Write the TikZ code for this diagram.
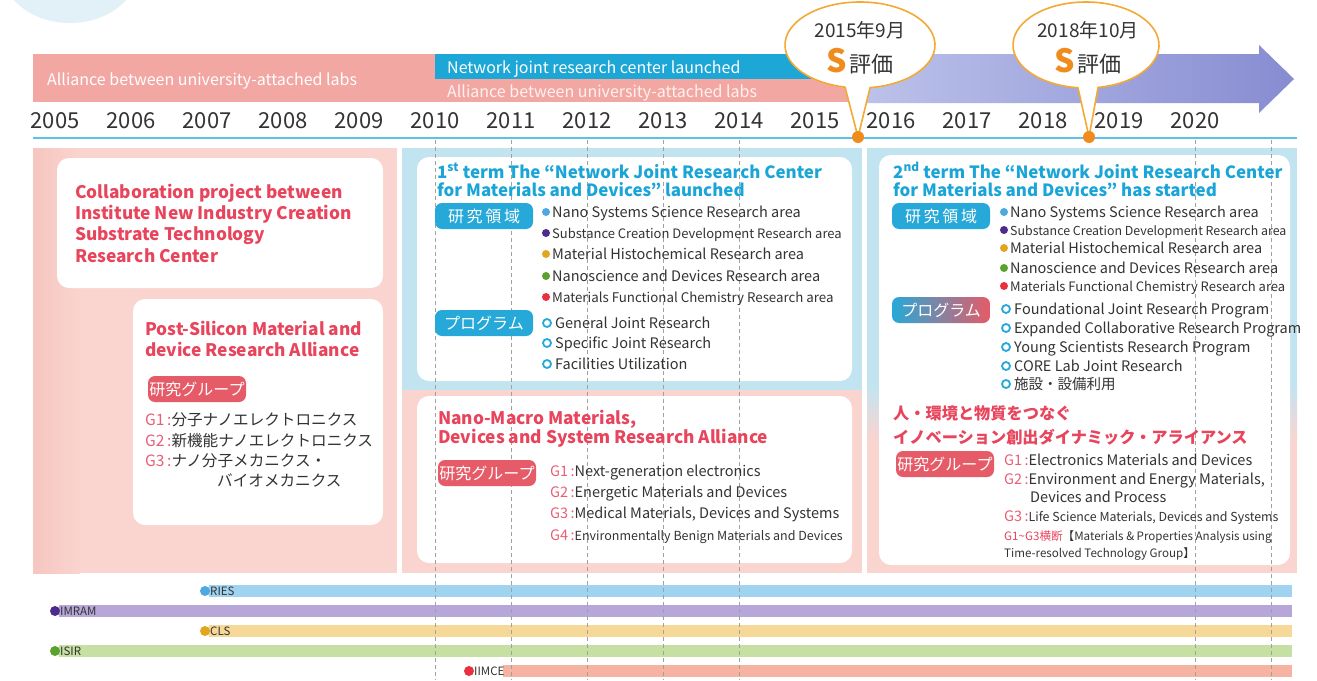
\documentclass[tikz,border=0pt]{standalone}
\usepackage{fontspec}
\setmainfont{Noto Sans CJK JP}
\usepackage{graphicx}
\usetikzlibrary{calc}
\newcommand\myfs[1]{\fontsize{#1}{#1}\selectfont}
\definecolor{ink}{HTML}{333333}
\definecolor{deco}{HTML}{E2F0F8}
\definecolor{pinkbar}{HTML}{F3A7A3}
\definecolor{bluebar}{HTML}{1CA7D6}
\definecolor{arrowL}{HTML}{BDC3EA}
\definecolor{arrowR}{HTML}{878CD2}
\definecolor{lineblue}{HTML}{5CC2EA}
\definecolor{pinkbg}{HTML}{FAD4CF}
\definecolor{pinkdk}{HTML}{F6C6C0}
\definecolor{bluebg}{HTML}{C2E4F1}
\definecolor{tred}{HTML}{E8445C}
\definecolor{gpink}{HTML}{EA5F78}
\definecolor{tcyan}{HTML}{1AA5D8}
\definecolor{bpink}{HTML}{E65B68}
\definecolor{bcyan}{HTML}{26A9D8}
\definecolor{sorange}{HTML}{F08C1E}
\definecolor{cborder}{HTML}{F2AA35}
\definecolor{gridgray}{HTML}{A0A0A0}
\definecolor{dBlue}{HTML}{4DA9E0}
\definecolor{dPurple}{HTML}{4B2C8C}
\definecolor{dOrange}{HTML}{E2A51E}
\definecolor{dGreen}{HTML}{5AA12E}
\definecolor{dRed}{HTML}{E8303E}
\definecolor{bBlue}{HTML}{A0D3EF}
\definecolor{bPurple}{HTML}{B7A6D8}
\definecolor{bOrange}{HTML}{F6D898}
\definecolor{bGreen}{HTML}{C6DFA2}
\definecolor{bRed}{HTML}{F6B3A2}
\begin{document}
\begin{tikzpicture}[x=1pt,y=-1pt,
  t/.style={anchor=base west, inner sep=0pt, text=ink},
  yr/.style={anchor=base, inner sep=0pt, text=ink, font=\myfs{22}},
  ttl/.style={t, font=\bfseries\myfs{17.3}},
  cttl/.style={t, text=tcyan, font=\bfseries\myfs{16.9}},
  it/.style={t, font=\myfs{14.5}},
  gl/.style={t, font=\myfs{15.6}},
  badge/.style={rounded corners=7pt, minimum width=98pt, minimum height=26pt, inner sep=0pt, text=white, font=\myfs{16}},
  wbox/.style={fill=white, rounded corners=12pt},
  gridln/.style={gridgray, dash pattern=on 4pt off 3pt, line width=0.6pt},
  ring/.style={bcyan, line width=1.8pt},
  inst/.style={t, font=\myfs{11.5}},
  callout/.style={fill=white, draw=cborder, line width=1.6pt, line join=round}
]
\useasboundingbox (0,0) rectangle (1317,680);
\fill[white] (0,0) rectangle (1317,680);
\fill[deco] (70,-30) ellipse [x radius=68, y radius=53];

% ---- top bars
\fill[pinkbar] (33,54) rectangle (855,102);
\fill[bluebar] (435,54) rectangle (855,79);
\shade[left color=arrowL, right color=arrowR] (855,54) -- (1259,54) -- (1259,45) -- (1294,79) -- (1259,113) -- (1259,103) -- (855,103) -- cycle;
\node[t, font=\myfs{16}, text=white] (alA) at (47,85) {Alliance between university-attached labs};
\node[t, font=\myfs{16}, text=white] (net) at (447,73) {Network joint research center launched};
\node[t, font=\myfs{16}, text=white, opacity=0.85] (alB) at (447,97) {Alliance between university-attached labs};

% ---- years
\foreach \yy [count=\i from 0] in {2005,2006,2007,2008,2009,2010,2011,2012,2013,2014,2015,2016,2017,2018,2019,2020}
  \node[yr] (y\yy) at (55+76*\i,128) {\yy};
\draw[lineblue, line width=1.2pt] (33,138) -- (1297,138);

% ---- panels
\shade[left color=pinkdk, right color=pinkbg] (33,148) rectangle (80,573);
\fill[pinkbg] (80,148) rectangle (397,573);
\fill[bluebg] (402,148) rectangle (862,390);
\fill[pinkbg] (402,390) rectangle (862,573);
\fill[bluebg] (867,148) rectangle (1297,385);
\shade[top color=bluebg, bottom color=pinkbg] (867,385) rectangle (1297,440);
\fill[pinkbg] (867,440) rectangle (1297,573);
\fill[wbox] (57,158) rectangle (383,288);
\fill[wbox] (133,299) rectangle (383,525);
\fill[wbox] (417,157) rectangle (852,381);
\fill[wbox] (417,396) rectangle (852,563);
\fill[wbox] (879,155) rectangle (1290,565);

% ---- institution bars
\fill[bBlue] (209,585) rectangle (1292,597);
\fill[bPurple] (59,605) rectangle (1292,617);
\fill[bOrange] (209,625) rectangle (1292,637);
\fill[bGreen] (59,645) rectangle (1292,657);
\fill[bRed] (503,665) rectangle (1292,677);

% ---- dashed year lines
\foreach \xx in {435,511,587,663,739,1195,1271}
  \draw[gridln] (\xx,140) -- (\xx,680);

% ---- institution labels
\fill[dBlue] (205,591) circle (5);
\node[inst] (ries) at (210,595) {RIES};
\fill[dPurple] (55,611) circle (5);
\node[inst] (imram) at (60,615) {IMRAM};
\fill[dOrange] (205,631) circle (5);
\node[inst] (cls) at (210,635) {CLS};
\fill[dGreen] (55,651) circle (5);
\node[inst] (isir) at (60,655) {ISIR};
\fill[dRed] (469,671) circle (5);
\node[inst] (iimce) at (474,675) {IIMCE};

% ---- left panel
\node[ttl, text=tred] (l1) at (75,198) {Collaboration project between};
\node[ttl, text=tred] (l2) at (75,219) {Institute New Industry Creation};
\node[ttl, text=tred] (l3) at (75,240) {Substrate Technology};
\node[ttl, text=tred] (l4) at (75,262) {Research Center};
\node[ttl, text=tred] (p1) at (145,335) {Post-Silicon Material and};
\node[ttl, text=tred] (p2) at (145,356) {device Research Alliance};
\node[badge, fill=bpink] (bL) at (197,389) {研究グループ};
\node[gl] (gL1) at (145,425) {\textcolor{gpink}{G1\,:}分子ナノエレクトロニクス};
\node[gl] (gL2) at (145,446) {\textcolor{gpink}{G2\,:}新機能ナノエレクトロニクス};
\node[gl] (gL3) at (145,466) {\textcolor{gpink}{G3\,:}ナノ分子メカニクス・};
\node[gl] (gL4) at (217,486) {バイオメカニクス};

% ---- middle top
\node[cttl] (m1) at (437,178) {1\textsuperscript{st} term The “Network Joint Research Center};
\node[cttl] (m2) at (437,196) {for Materials and Devices” launched};
\node[badge, fill=bcyan] (bM1) at (484,216) {研\,究\,領\,域};
\fill[dBlue] (546,212) circle (4);
\node[it] (ma1) at (552,217) {Nano Systems Science Research area};
\fill[dPurple] (546,233) circle (4);
\node[it, font=\myfs{13}] (ma2) at (552,238) {Substance Creation Development Research area};
\fill[dOrange] (546,254) circle (4);
\node[it] (ma3) at (552,259) {Material Histochemical Research area};
\fill[dGreen] (546,276) circle (4);
\node[it] (ma4) at (552,281) {Nanoscience and Devices Research area};
\fill[dRed] (546,297) circle (4);
\node[it, font=\myfs{13.3}] (ma5) at (552,302) {Materials Functional Chemistry Research area};
\node[badge, fill=bcyan] (bM2) at (484,323) {プログラム};
\draw[ring] (547,323) circle (4);
\node[it] (mp1) at (555,328) {General Joint Research};
\draw[ring] (547,343) circle (4);
\node[it] (mp2) at (555,348) {Specific Joint Research};
\draw[ring] (547,364) circle (4);
\node[it] (mp3) at (555,369) {Facilities Utilization};

% ---- middle bottom
\node[ttl, text=tred] (n1) at (438,424) {Nano-Macro Materials,};
\node[ttl, text=tred] (n2) at (438,443) {Devices and System Research Alliance};
\node[badge, fill=bpink] (bN) at (487,473) {研究グループ};
\node[it] (ng1) at (550,476) {\textcolor{gpink}{G1\,:}Next-generation electronics};
\node[it] (ng2) at (550,497) {\textcolor{gpink}{G2\,:}Energetic Materials and Devices};
\node[it] (ng3) at (550,518) {\textcolor{gpink}{G3\,:}Medical Materials, Devices and Systems};
\node[it] (ng4) at (550,540) {\textcolor{gpink}{G4\,:}\myfs{12.5}Environmentally Benign Materials and Devices};

% ---- right panel
\node[cttl] (r1) at (893,178) {2\textsuperscript{nd} term The “Network Joint Research Center};
\node[cttl] (r2) at (893,196) {for Materials and Devices” has started};
\node[badge, fill=bcyan] (bR1) at (941,216) {研\,究\,領\,域};
\fill[dBlue] (1004,212) circle (4);
\node[it] (ra1) at (1010,217) {Nano Systems Science Research area};
\fill[dPurple] (1004,230) circle (4);
\node[it, font=\myfs{12.4}] (ra2) at (1010,235) {Substance Creation Development Research area};
\fill[dOrange] (1004,248) circle (4);
\node[it] (ra3) at (1010,253) {Material Histochemical Research area};
\fill[dGreen] (1004,268) circle (4);
\node[it] (ra4) at (1010,273) {Nanoscience and Devices Research area};
\fill[dRed] (1004,286) circle (4);
\node[it, font=\myfs{13}] (ra5) at (1010,291) {Materials Functional Chemistry Research area};
\node[badge, left color=bcyan, right color=bpink] (bR2) at (941,310) {プログラム};
\draw[ring] (1006,309) circle (4);
\node[it] (rp1) at (1014,314) {Foundational Joint Research Program};
\draw[ring] (1006,328) circle (4);
\node[it] (rp2) at (1014,333) {Expanded Collaborative Research Program};
\draw[ring] (1006,347) circle (4);
\node[it] (rp3) at (1014,352) {Young Scientists Research Program};
\draw[ring] (1006,366) circle (4);
\node[it] (rp4) at (1014,371) {CORE Lab Joint Research};
\draw[ring] (1006,384) circle (4);
\node[it] (rp5) at (1014,389) {施設・設備利用};
\node[ttl, text=tred, font=\bfseries\myfs{16.2}] (rj1) at (893,419) {人・環境と物質をつなぐ};
\node[ttl, text=tred, font=\bfseries\myfs{16.2}] (rj2) at (893,443) {イノベーション創出ダイナミック・アライアンス};
\node[badge, fill=bpink] (bR3) at (945,464) {研究グループ};
\node[it] (rg1) at (1004,465) {\textcolor{gpink}{G1\,:}Electronics Materials and Devices};
\node[it] (rg2) at (1004,484) {\textcolor{gpink}{G2\,:}Environment and Energy Materials,};
\node[it] (rg2b) at (1030,502) {Devices and Process};
\node[it] (rg3) at (1004,521) {\textcolor{gpink}{G3\,:}\myfs{12.4}Life Science Materials, Devices and Systems};
\node[t, font=\myfs{11.6}] (rg4) at (1004,540) {\textcolor{tred}{G1\textasciitilde G3横断}【Materials \& Properties Analysis using};
\node[t, font=\myfs{11.6}] (rg5) at (1004,557) {Time-resolved Technology Group】};

% ---- callouts
\path[callout] ($(860,45)+(82.3:75 and 43)$) arc[start angle=82.3, end angle=-258.5, x radius=75, y radius=43] -- (858,137) -- cycle;
\fill[sorange] (858,137) circle (6);
\node[anchor=base, font=\myfs{19}, text=ink, inner sep=0pt] (c1a) at (860,37) {2015年9月};
\node[anchor=base, text=ink, inner sep=0pt] (c1b) at (860,72) {\textcolor{sorange}{\bfseries\myfs{32}S}\,\myfs{22}評価};
\path[callout] ($(1086,45)+(80.5:73 and 43)$) arc[start angle=80.5, end angle=-263.7, x radius=73, y radius=43] -- (1089,137) -- cycle;
\fill[sorange] (1089,137) circle (6);
\node[anchor=base, font=\myfs{19}, text=ink, inner sep=0pt] (c2a) at (1088,37) {2018年10月};
\node[anchor=base, text=ink, inner sep=0pt] (c2b) at (1088,72) {\textcolor{sorange}{\bfseries\myfs{32}S}\,\myfs{22}評価};
\end{tikzpicture}
\end{document}
